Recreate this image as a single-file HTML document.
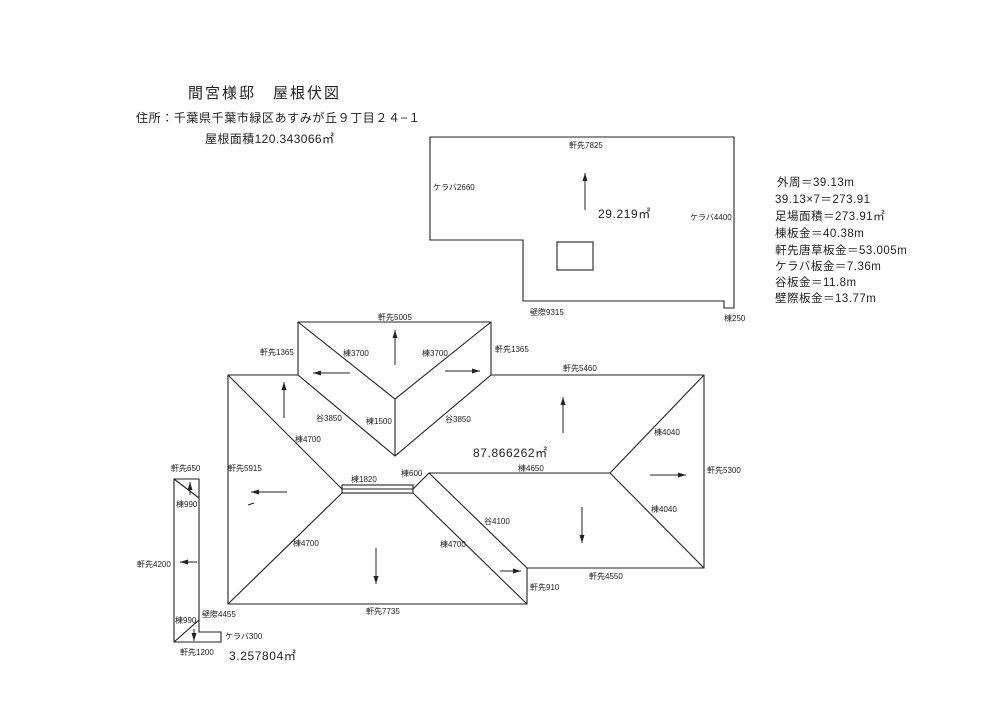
<!DOCTYPE html>
<html><head><meta charset="utf-8"><style>
body{margin:0;background:#fff}
svg{display:block}
text{font-family:"Liberation Sans","Noto Sans CJK JP",sans-serif;fill:#222}
.s{font-size:8px}
.m{font-size:12px;letter-spacing:0.6px}
.i{font-size:11.5px;letter-spacing:0.5px}
</style></head><body>
<svg width="1000" height="723" viewBox="0 0 1000 723" xmlns="http://www.w3.org/2000/svg">
<defs><marker id="a" markerWidth="8" markerHeight="6" refX="8" refY="3" orient="auto" markerUnits="userSpaceOnUse"><path d="M0,0.5 L8,3 L0,5.5 z" fill="#222"/></marker></defs>
<g stroke="#222" stroke-width="1.1" fill="none">
<path d="M430,137 H734 V308 H724 V301 H523 V240 H430 Z"/>
<rect x="557" y="242" width="36" height="28"/>
<path d="M298,322 H491 V375 H704 V568 H527 V604 H228 V375 H298 Z"/>
<path d="M298,322 L395,399 L491,322"/>
<path d="M298,375 L395,456 L491,375"/>
<path d="M395,399 V456"/>
<rect x="342" y="485" width="71" height="8"/>
<path d="M342,489 H413"/>
<path d="M228,375 L342,489 M228,604 L342,493 M413,489 L429,473 L527,568 M413,493 L527,604"/>
<path d="M429,473 H610 L704,375 M610,473 L704,568"/>
<path d="M248,505 L254,503"/>
<path d="M174,479 H199 V632 H221 V642 H174 Z"/>
<path d="M174,479 L199,498 M174,642 L199,620"/>
</g>
<g stroke="#222" stroke-width="1" marker-end="url(#a)">
<line x1="585" y1="210" x2="585" y2="173"/>
<line x1="395" y1="365" x2="395" y2="330"/>
<line x1="350" y1="373" x2="313" y2="373"/>
<line x1="445" y1="371" x2="480" y2="371"/>
<line x1="284" y1="418" x2="284" y2="382"/>
<line x1="563" y1="433" x2="563" y2="397"/>
<line x1="650" y1="475" x2="686" y2="475"/>
<line x1="287" y1="492" x2="251" y2="492"/>
<line x1="376" y1="548" x2="376" y2="584"/>
<line x1="582" y1="507" x2="582" y2="543"/>
<line x1="500" y1="571" x2="521" y2="571"/>
<line x1="197" y1="562" x2="180" y2="562"/>
<line x1="190" y1="495" x2="190" y2="482"/>
<line x1="194" y1="629" x2="194" y2="641"/>
</g>
<text x="188" y="98" style="font-size:15px;letter-spacing:2px">間宮様邸　屋根伏図</text>
<text x="136" y="122" style="font-size:12px;letter-spacing:0.6px">住所：千葉県千葉市緑区あすみが丘９丁目２４−１</text>
<text x="205" y="143" style="font-size:12px;letter-spacing:0.4px">屋根面積120.343066㎡</text>
<g class="i">
<text x="777" y="186">外周＝39.13m</text>
<text x="775" y="203">39.13×7＝273.91</text>
<text x="775" y="220">足場面積＝273.91㎡</text>
<text x="775" y="237">棟板金＝40.38m</text>
<text x="775" y="254">軒先唐草板金＝53.005m</text>
<text x="775" y="270">ケラバ板金＝7.36m</text>
<text x="775" y="286">谷板金＝11.8m</text>
<text x="775" y="302">壁際板金＝13.77m</text>
</g>
<g class="s">
<text x="569" y="148">軒先7825</text>
<text x="433" y="190">ケラバ2660</text>
<text x="690" y="220">ケラバ4400</text>
<text x="530" y="315">壁際9315</text>
<text x="724" y="321">棟250</text>
<text x="378" y="320">軒先5005</text>
<text x="260" y="355">軒先1365</text>
<text x="495" y="352">軒先1365</text>
<text x="343" y="356">棟3700</text>
<text x="422" y="356">棟3700</text>
<text x="563" y="371">軒先5460</text>
<text x="316" y="421">谷3850</text>
<text x="366" y="424">棟1500</text>
<text x="445" y="422">谷3850</text>
<text x="295" y="442">棟4700</text>
<text x="654" y="435">棟4040</text>
<text x="228" y="471">軒先5915</text>
<text x="401" y="476">棟600</text>
<text x="351" y="482">棟1820</text>
<text x="518" y="471">棟4650</text>
<text x="707" y="473">軒先5300</text>
<text x="651" y="512">棟4040</text>
<text x="484" y="524">谷4100</text>
<text x="293" y="546">棟4700</text>
<text x="440" y="547">棟4700</text>
<text x="589" y="579">軒先4550</text>
<text x="530" y="590">軒先910</text>
<text x="366" y="614">軒先7735</text>
<text x="171" y="471">軒先650</text>
<text x="176" y="507">棟990</text>
<text x="137" y="567">軒先4200</text>
<text x="202" y="617">壁際4455</text>
<text x="175" y="623">棟990</text>
<text x="225" y="639">ケラバ300</text>
<text x="180" y="655">軒先1200</text>
</g>
<text class="m" x="598" y="218">29.219㎡</text>
<text class="m" x="473" y="457">87.866262㎡</text>
<text class="m" x="229" y="660">3.257804㎡</text>
</svg>
</body></html>
